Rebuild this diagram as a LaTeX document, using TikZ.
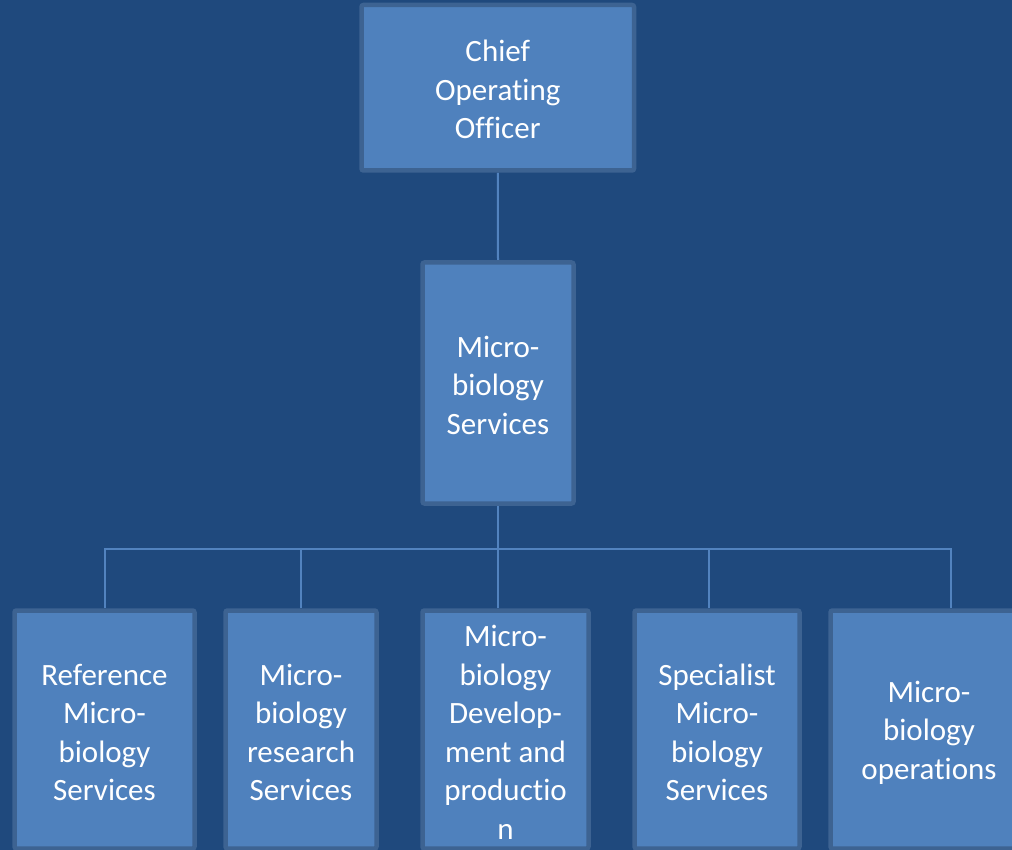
\documentclass[tikz,border=0pt]{standalone}
\usepackage{fontspec}
\setmainfont{Carlito}[RawFeature={-liga}]
\usetikzlibrary{backgrounds}
\definecolor{pagebg}{HTML}{1F497D}
\definecolor{boxfill}{HTML}{4F81BD}
\definecolor{boxrim}{HTML}{3D6392}
\definecolor{wire}{HTML}{5283BF}
\tikzset{
  unitbox/.style={draw=boxrim, fill=boxfill, line width=4.5pt, rounded corners=2pt,
    rectangle, inner sep=0pt},
  txt/.style={text=white, align=center, inner sep=0pt,
    font=\fontsize{31pt}{38.5pt}\selectfont},
  conn/.style={draw=wire, line width=2pt}
}
\begin{document}
\begin{tikzpicture}[x=1pt, y=-1pt]
\useasboundingbox (0,0) rectangle (1012,850);
\clip (0,0) rectangle (1012,850);

% boxes
\node[unitbox, minimum width=272.5pt, minimum height=165.5pt] (coo) at (497.75,87.75) {};
\node[unitbox, minimum width=151pt, minimum height=241pt] (mid) at (498,383) {};
\node[unitbox, minimum width=180pt, minimum height=238pt] (b1) at (104.5,729.5) {};
\node[unitbox, minimum width=151pt, minimum height=238pt] (b2) at (301,729.5) {};
\node[unitbox, minimum width=166pt, minimum height=238pt] (b3) at (505.5,729.5) {};
\node[unitbox, minimum width=165pt, minimum height=238pt] (b4) at (717,729.5) {};
\node[unitbox, minimum width=197pt, minimum height=238pt] (b5) at (929,729.5) {};

% labels
\node[txt] (coot) at ([yshift=-2pt]coo.center) {Chief\\Operating\\Officer};
\node[txt] (midt) at ([yshift=-2pt]mid.center) {Micro-\\biology\\Services};
\node[txt] (b1t) at ([yshift=-3pt]b1.center) {Reference\\Micro-\\biology\\Services};
\node[txt] (b2t) at ([yshift=-3pt]b2.center) {Micro-\\biology\\research\\Services};
\node[txt] (b3t) at ([yshift=-3pt]b3.center) {Micro-\\biology\\Develop-\\ment and\\productio\\n};
\node[txt] (b4t) at ([yshift=-3pt]b4.center) {Specialist\\Micro-\\biology\\Services};
\node[txt] (b5t) at ([yshift=-3pt]b5.center) {Micro-\\biology\\operations};

% background and connectors
\begin{scope}[on background layer]
  \fill[pagebg] (0,0) rectangle (1012,850);
  \coordinate (bus) at (498,549);
  \coordinate (d4) at ([xshift=-8pt]b4.north);
  \coordinate (d5) at ([xshift=22pt]b5.north);
  \draw[conn] (coo.south) -- (mid.north);
  \draw[conn] (mid.south) -- (bus);
  \draw[conn] (b1.north) |- (bus) -| (d5);
  \draw[conn] (b2.north) -- (b2.north |- bus);
  \draw[conn] (b3.north -| bus) -- (bus);
  \draw[conn] (d4) -- (d4 |- bus);
\end{scope}
\end{tikzpicture}
\end{document}
